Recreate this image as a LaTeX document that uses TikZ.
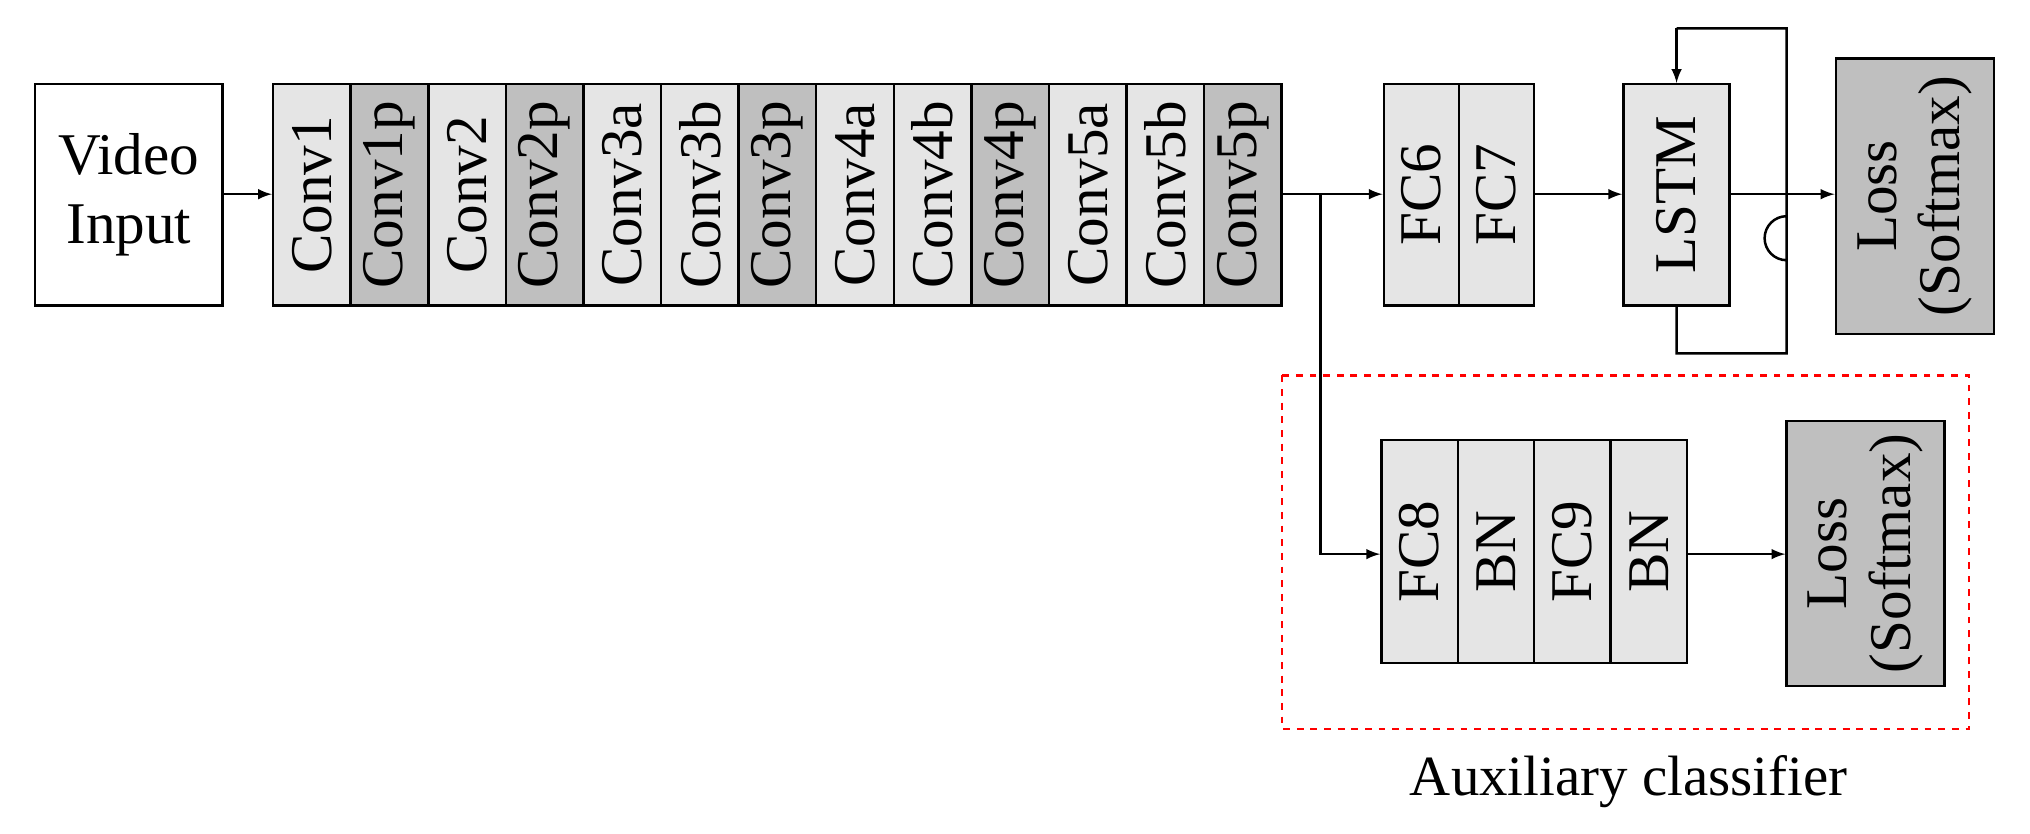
\documentclass[tikz,border=0pt]{standalone}
\usepackage{fontspec}
\setmainfont{Liberation Serif}
\begin{document}
\begin{tikzpicture}[x=0.02cm,y=-0.02cm,line width=1.1pt,
  lt/.style={draw,fill=black!10},
  dk/.style={draw,fill=black!25},
  col/.style={rotate=90,minimum width=3.42cm,minimum height=1.198cm,inner sep=0pt,font=\fontsize{26}{28}\selectfont},
  arr/.style={-latex},
  big/.style={font=\fontsize{26}{30}\selectfont}]
\useasboundingbox (0,0) rectangle (1568,644);
\node[draw,big,minimum width=2.9cm,minimum height=3.42cm,align=center] (vid) at (99.5,150.5) {Video\\Input};
\foreach \n/\t/\s [count=\i from 0] in {c1/Conv1/lt,c1p/Conv1p/dk,c2/Conv2/lt,c2p/Conv2p/dk,c3a/Conv3a/lt,c3b/Conv3b/lt,c3p/Conv3p/dk,c4a/Conv4a/lt,c4b/Conv4b/lt,c4p/Conv4p/dk,c5a/Conv5a/lt,c5b/Conv5b/lt,c5p/Conv5p/dk}
  \node[col,\s] (\n) at ({211+59.92*\i+29.96},150.5) {\t};
\node[col,lt,minimum height=1.16cm] (fc6) at (1098,150.5) {FC6};
\node[col,lt,minimum height=1.16cm] (fc7) at (1156,150.5) {FC7};
\node[col,lt,minimum height=1.64cm] (lstm) at (1295,150.5) {LSTM};
\node[col,dk,minimum width=4.26cm,minimum height=2.44cm,align=center] (loss) at (1479,151.5) {Loss\\(Softmax)};
\node[col,lt,minimum width=3.44cm,minimum height=1.18cm] (fc8) at (1096.5,426) {FC8};
\node[col,lt,minimum width=3.44cm,minimum height=1.18cm] (bn1) at (1155.5,426) {BN};
\node[col,lt,minimum width=3.44cm,minimum height=1.18cm] (fc9) at (1214.5,426) {FC9};
\node[col,lt,minimum width=3.44cm,minimum height=1.18cm] (bn2) at (1273.5,426) {BN};
\node[col,dk,minimum width=4.1cm,minimum height=2.44cm,align=center] (loss2) at (1441,427.5) {Loss\\(Softmax)};
\draw[red,dashed,line width=1pt] (990,290) rectangle (1521,563);
\node[big,font=\fontsize{25}{28}\selectfont] (aux) at (1258,604) {Auxiliary classifier};
\draw[arr] (vid.east|-0,150) -- (c1.north|-0,150);
\draw[arr] (c5p.south|-0,150) -- (fc6.north|-0,150);
\draw[arr] (1020,150) -- (1020,428) -- (fc8.north|-0,428);
\draw[arr] (fc7.south|-0,150) -- (lstm.north|-0,150);
\draw[arr] (lstm.south|-0,150) -- (loss.north|-0,150);
\draw[arr] (bn2.south|-0,428) -- (loss2.north|-0,428);
\coordinate (h1) at (1380,167);
\coordinate (h2) at (1380,133);
\draw (lstm.west) -- (1295,273) -- (1380,273) -- (h1) arc[start angle=-90,end angle=-270,radius=17] -- (1380,22) -- (1295,22);
\draw[arr] (1295,22) -- (lstm.east);
\end{tikzpicture}
\end{document}
